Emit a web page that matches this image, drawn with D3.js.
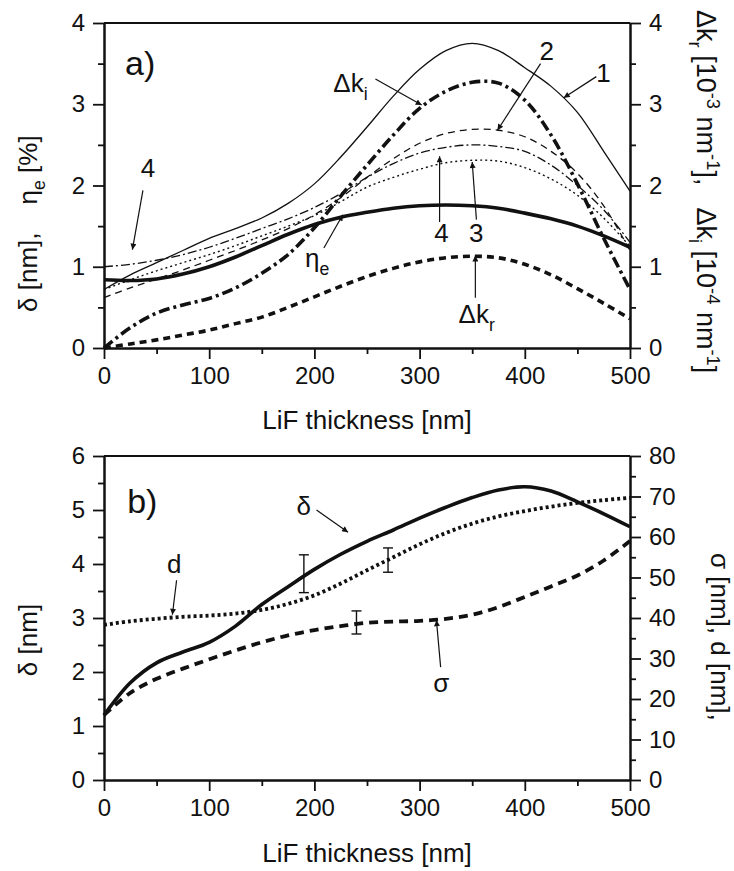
<!DOCTYPE html>
<html>
<head>
<meta charset="utf-8">
<script src="https://cdn.jsdelivr.net/npm/d3@7"></script>
<style>
  body { margin: 0; background: #fff; }
  text { font-family: "Liberation Sans", Arial, sans-serif; fill: #111; white-space: pre; }
</style>
</head>
<body>
<div id="chart"></div>
<script>
// LiF thickness [nm] - common x for every curve
var thickness = [0, 25, 50, 75, 100, 125, 150, 175, 200, 225, 250, 275, 300, 325, 350, 375, 400, 425, 450, 475, 500];

// panel a) - numbered curves 1..4 (delta, thin lines)
var curve1 = [0.72, 0.90, 1.05, 1.20, 1.35, 1.47, 1.60, 1.78, 2.02, 2.35, 2.72, 3.10, 3.43, 3.66, 3.75, 3.66, 3.45, 3.22, 2.90, 2.42, 1.93];
var curve2 = [0.62, 0.74, 0.85, 0.96, 1.08, 1.20, 1.33, 1.47, 1.64, 1.85, 2.10, 2.33, 2.52, 2.64, 2.69, 2.68, 2.60, 2.42, 2.15, 1.75, 1.20];
var curve3 = [0.72, 0.84, 0.95, 1.05, 1.15, 1.26, 1.38, 1.50, 1.63, 1.80, 1.98, 2.10, 2.20, 2.28, 2.31, 2.30, 2.22, 2.08, 1.88, 1.60, 1.25];
var curve4 = [1.00, 1.03, 1.08, 1.15, 1.24, 1.35, 1.47, 1.59, 1.73, 1.90, 2.10, 2.27, 2.40, 2.47, 2.50, 2.48, 2.42, 2.25, 2.00, 1.70, 1.30];
// panel a) - thick lines
var dkI  = [0.00, 0.25, 0.43, 0.53, 0.61, 0.74, 0.92, 1.15, 1.48, 1.87, 2.25, 2.62, 2.95, 3.16, 3.27, 3.26, 3.05, 2.62, 2.02, 1.35, 0.72];
var dkR  = [0.00, 0.05, 0.10, 0.16, 0.22, 0.30, 0.38, 0.50, 0.63, 0.76, 0.88, 0.98, 1.06, 1.11, 1.13, 1.11, 1.03, 0.90, 0.73, 0.55, 0.36];
var etaE = [0.84, 0.83, 0.85, 0.91, 1.00, 1.12, 1.26, 1.40, 1.52, 1.61, 1.67, 1.72, 1.75, 1.76, 1.75, 1.72, 1.66, 1.59, 1.50, 1.38, 1.24];

// panel b) - delta on the left axis, d and sigma on the right axis
var delta    = [1.20, 1.80, 2.17, 2.37, 2.55, 2.85, 3.25, 3.58, 3.90, 4.18, 4.42, 4.63, 4.85, 5.05, 5.23, 5.37, 5.43, 5.35, 5.15, 4.93, 4.69];
var dSpacing = [38.3, 39.2, 39.8, 40.3, 40.6, 41.1, 42.0, 43.5, 45.6, 48.5, 51.8, 55.0, 58.2, 61.0, 63.3, 65.1, 66.4, 67.5, 68.4, 69.1, 69.7];
var sigma    = [16.0, 21.5, 25.0, 27.5, 29.8, 32.0, 34.0, 35.7, 37.0, 38.0, 38.8, 39.1, 39.3, 39.8, 40.8, 42.7, 45.2, 47.8, 50.5, 54.2, 59.0];

// error bars in panel b)
var errT    = [190, 240, 270];
var errMid  = [3.82, 38.9, 54.3];
var errHalf = [0.35, 2.85, 3.0];
var errAxis = ["left", "right", "right"];

// tick values
var xTicks = [0, 100, 200, 300, 400, 500];
var xMinor = [50, 150, 250, 350, 450];
var aTicks = [0, 1, 2, 3, 4];
var aMinor = [0.5, 1.5, 2.5, 3.5];
var bLeftTicks = [0, 1, 2, 3, 4, 5, 6];
var bLeftMinor = [0.5, 1.5, 2.5, 3.5, 4.5, 5.5];
var bRightTicks = [0, 10, 20, 30, 40, 50, 60, 70, 80];
var bRightMinor = [5, 15, 25, 35, 45, 55, 65, 75];

var width = 734, height = 871;
var left = 104, right = 630;

var svg = d3.select("#chart").append("svg")
    .attr("width", width)
    .attr("height", height);

svg.append("defs").append("marker")
    .attr("id", "ah")
    .attr("viewBox", "0 0 10 10")
    .attr("refX", 10).attr("refY", 5)
    .attr("markerWidth", 10).attr("markerHeight", 6)
    .attr("markerUnits", "userSpaceOnUse")
    .attr("orient", "auto")
  .append("path")
    .attr("d", "M0,0 L10,5 L0,10 z")
    .attr("fill", "#111");

var x = d3.scaleLinear().domain([0, 500]).range([left, right]);
var fmt = d3.format("d");

// text with sub/superscripts: parts = [[string, kind, dx]]
function rich(px, py, parts, size, angle, anchor) {
    var t = svg.append("text")
        .attr("transform", "translate(" + px + "," + py + ") rotate(" + (angle || 0) + ")")
        .attr("font-size", size)
        .attr("text-anchor", anchor || "start");
    var shift = 0;
    parts.forEach(function(p) {
        var want = 0, fs = size;
        if (p[1] == "sub") { want = size * 0.3; fs = size * 0.68; }
        if (p[1] == "sup") { want = -size * 0.38; fs = size * 0.68; }
        var s = t.append("tspan").text(p[0]).attr("font-size", fs).attr("dy", want - shift);
        if (p[2]) s.attr("dx", p[2]);
        shift = want;
    });
    return t;
}

function arrow(x1, y1, x2, y2) {
    svg.append("line")
        .attr("x1", x1).attr("y1", y1).attr("x2", x2).attr("y2", y2)
        .attr("stroke", "#111").attr("stroke-width", 1.2)
        .attr("marker-end", "url(#ah)");
}

function styleAxis(g) {
    g.select(".domain").attr("stroke", "#111").attr("stroke-width", 2);
    g.selectAll(".tick line").attr("stroke", "#111").attr("stroke-width", 1.8);
    g.selectAll(".tick text").attr("font-size", 24).attr("fill", "#111")
        .style("font-family", '"Liberation Sans", Arial, sans-serif');
}

function frame(yL, yR, lTicks, lMinor, rTicks, rMinor, yBottom) {
    var g;
    g = svg.append("g").attr("transform", "translate(0," + yBottom + ")")
        .call(d3.axisBottom(x).tickValues(xTicks).tickFormat(fmt).tickSize(11).tickPadding(8).tickSizeOuter(0));
    styleAxis(g);
    g = svg.append("g").attr("transform", "translate(0," + yBottom + ")")
        .call(d3.axisBottom(x).tickValues(xMinor).tickSize(6).tickFormat("").tickSizeOuter(0));
    styleAxis(g);
    g = svg.append("g").attr("transform", "translate(" + left + ",0)")
        .call(d3.axisLeft(yL).tickValues(lTicks).tickFormat(fmt).tickSize(11).tickPadding(8).tickSizeOuter(0));
    styleAxis(g);
    g = svg.append("g").attr("transform", "translate(" + left + ",0)")
        .call(d3.axisLeft(yL).tickValues(lMinor).tickSize(6).tickFormat("").tickSizeOuter(0));
    styleAxis(g);
    g = svg.append("g").attr("transform", "translate(" + right + ",0)")
        .call(d3.axisRight(yR).tickValues(rTicks).tickFormat(fmt).tickSize(11).tickPadding(8).tickSizeOuter(0));
    styleAxis(g);
    g = svg.append("g").attr("transform", "translate(" + right + ",0)")
        .call(d3.axisRight(yR).tickValues(rMinor).tickSize(6).tickFormat("").tickSizeOuter(0));
    styleAxis(g);
    // top border
    svg.append("line")
        .attr("x1", left).attr("x2", right)
        .attr("y1", yL.range()[1]).attr("y2", yL.range()[1])
        .attr("stroke", "#111").attr("stroke-width", 2);
}

function curve(values, y, w, dash) {
    var line = d3.line()
        .x(function(d, i) { return x(thickness[i]); })
        .y(function(d) { return y(d); })
        .curve(d3.curveCatmullRom.alpha(0.5));
    svg.append("path")
        .datum(values)
        .attr("d", line)
        .attr("fill", "none")
        .attr("stroke", "#111")
        .attr("stroke-width", w)
        .attr("stroke-dasharray", dash || null);
}

/********** panel a) **********/
var yA = d3.scaleLinear().domain([0, 4]).range([348, 23]);
var yAr = d3.scaleLinear().domain([0, 4]).range([348, 23]);

frame(yA, yAr, aTicks, aMinor, aTicks, aMinor, 348);

curve(curve1, yA, 1.3);
curve(curve2, yA, 1.3, "7,5");
curve(curve3, yA, 1.4, "2,3");
curve(curve4, yA, 1.3, "9,3,2,3");
curve(etaE, yA, 3.6);
curve(dkI, yAr, 3.6, "11,4,3,4");
curve(dkR, yAr, 3.6, "7,5");

rich(x(20), yA(3.36), [["a)"]], 34);
rich(x(218), yA(3.15), [["Δk"], ["i", "sub"]], 26);
arrow(x(258), yA(3.31), x(302), yA(2.99));
rich(x(468), yA(3.27), [["1"]], 26);
arrow(x(468), yA(3.34), x(437), yA(3.08));
rich(x(414), yA(3.54), [["2"]], 26);
arrow(x(415), yA(3.5), x(374), yA(2.68));
rich(x(35), yA(2.1), [["4"]], 26);
arrow(x(37), yA(1.94), x(27), yA(1.21));
rich(x(191), yA(1.0), [["η"], ["e", "sub"]], 26);
arrow(x(209), yA(1.23), x(227), yA(1.64));
rich(x(314), yA(1.3), [["4"]], 26);
arrow(x(319), yA(1.55), x(319), yA(2.36));
rich(x(347), yA(1.3), [["3"]], 26);
arrow(x(354), yA(1.58), x(350), yA(2.29));
rich(x(337), yA(0.31), [["Δk"], ["r", "sub"]], 26);
arrow(x(353), yA(0.62), x(353), yA(1.14));

rich((left + right) / 2, 429, [["LiF thickness [nm]"]], 26, 0, "middle");
rich(37, 312, [["δ [nm],"], ["η", "", 28], ["e", "sub"], [" [%]"]], 26, -90);
rich(697, 10, [["Δk"], ["r", "sub"], [" [10"], ["-3", "sup"], [" nm"], ["-1", "sup"], ["],"],
               ["Δk", "", 22], ["i", "sub"], [" [10"], ["-4", "sup"], [" nm"], ["-1", "sup"], ["]"]], 27, 90);

/********** panel b) **********/
var yB = d3.scaleLinear().domain([0, 6]).range([780, 456]);
var yBr = d3.scaleLinear().domain([0, 80]).range([780, 456]);

frame(yB, yBr, bLeftTicks, bLeftMinor, bRightTicks, bRightMinor, 780);

curve(sigma, yBr, 3.8, "9,6");
curve(dSpacing, yBr, 3.8, "3,3");
curve(delta, yB, 3.6);

// error bars
errT.forEach(function(t, i) {
    var y = errAxis[i] == "left" ? yB : yBr;
    var cx = x(t), y1 = y(errMid[i] - errHalf[i]), y2 = y(errMid[i] + errHalf[i]);
    svg.append("line").attr("x1", cx).attr("x2", cx).attr("y1", y1).attr("y2", y2)
        .attr("stroke", "#111").attr("stroke-width", 1.4);
    [y1, y2].forEach(function(yy) {
        svg.append("line").attr("x1", cx - 5).attr("x2", cx + 5).attr("y1", yy).attr("y2", yy)
            .attr("stroke", "#111").attr("stroke-width", 1.4);
    });
});

rich(x(22), yB(4.94), [["b)"]], 34);
rich(x(183), yB(4.9), [["δ"]], 26);
arrow(x(202), yB(5.0), x(232), yB(4.59));
rich(x(60), yB(3.83), [["d"]], 26);
arrow(x(69), yB(3.7), x(65), yB(3.06));
rich(x(313), yB(1.63), [["σ"]], 26);
arrow(x(320), yB(2.09), x(316), yB(2.96));

rich((left + right) / 2, 862, [["LiF thickness [nm]"]], 26, 0, "middle");
rich(37, 640, [["δ [nm]"]], 26, -90, "middle");
rich(711, 553, [["σ [nm], d [nm],"]], 26, 90);
</script>
</body>
</html>
